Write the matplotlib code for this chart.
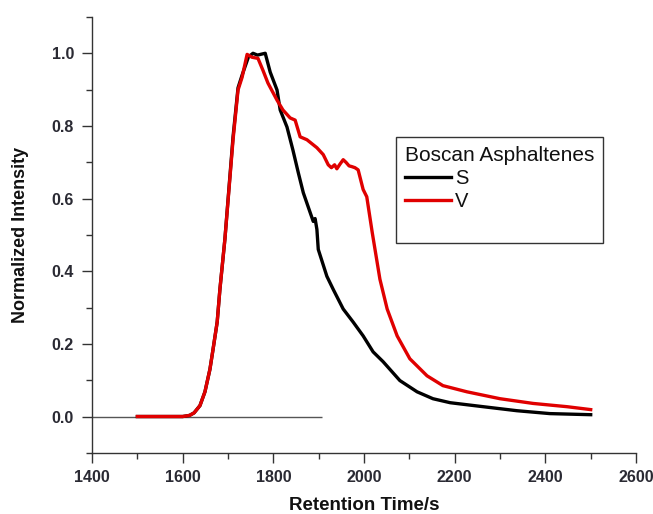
import matplotlib.pyplot as plt
from matplotlib.ticker import MultipleLocator
from matplotlib.lines import Line2D

# Boscan asphaltenes, S and V traces
s_time = [1500, 1600, 1615, 1625, 1638, 1649, 1660, 1667, 1676, 1682, 1693,
          1711, 1722, 1731, 1745, 1755, 1765, 1775, 1782, 1793, 1808, 1815,
          1830, 1843, 1855, 1866, 1881, 1888, 1892, 1896, 1899, 1918, 1932,
          1954, 1976, 1998, 2020, 2042, 2079, 2117, 2152, 2190, 2263, 2337,
          2410, 2500]
s_int = [0, 0, 0.003, 0.01, 0.03, 0.068, 0.13, 0.186, 0.26, 0.35, 0.488,
         0.77, 0.905, 0.94, 0.99, 1.0, 0.995, 0.998, 1.0, 0.948, 0.899, 0.844,
         0.797, 0.734, 0.671, 0.616, 0.562, 0.537, 0.545, 0.515, 0.46, 0.386,
         0.35, 0.296, 0.26, 0.222, 0.178, 0.151, 0.099, 0.068, 0.049, 0.038,
         0.027, 0.016, 0.008, 0.005]

v_time = [1500, 1600, 1615, 1625, 1638, 1649, 1660, 1667, 1676, 1682, 1693,
          1711, 1722, 1731, 1742, 1753, 1766, 1777, 1788, 1808, 1821, 1837,
          1848, 1859, 1874, 1896, 1910, 1921, 1928, 1935, 1940, 1947, 1954,
          1960, 1967, 1973, 1980, 1987, 1998, 2006, 2018, 2035, 2051, 2073,
          2101, 2139, 2174, 2227, 2300, 2373, 2448, 2500]
v_int = [0, 0, 0.003, 0.01, 0.03, 0.068, 0.13, 0.186, 0.26, 0.35, 0.488,
         0.762, 0.899, 0.934, 0.997, 0.989, 0.986, 0.953, 0.918, 0.871, 0.844,
         0.822, 0.816, 0.770, 0.762, 0.740, 0.721, 0.693, 0.685, 0.693, 0.682,
         0.695, 0.707, 0.700, 0.690, 0.688, 0.685, 0.679, 0.625, 0.605, 0.507,
         0.378, 0.296, 0.222, 0.159, 0.112, 0.085, 0.068, 0.049, 0.036, 0.027,
         0.019]

baseline_start = 1400
baseline_end = 1907

plt.rcParams['font.family'] = ['Liberation Sans', 'DejaVu Sans']
text_col = '#2a2a33'

fig = plt.figure(figsize=(6.53, 5.14), dpi=100)
ax = fig.add_axes([0.141, 0.119, 0.833, 0.848])

ax.hlines(0, baseline_start, baseline_end, color='#555555', lw=1.0)
ax.plot(s_time, s_int, color='black', lw=2.4, label='S')
ax.plot(v_time, v_int, color='#e00000', lw=2.4, label='V')

ax.set_xlim(1400, 2600)
ax.set_ylim(-0.1, 1.1)
ax.xaxis.set_major_locator(MultipleLocator(200))
ax.xaxis.set_minor_locator(MultipleLocator(100))
ax.yaxis.set_major_locator(MultipleLocator(0.2))
ax.yaxis.set_minor_locator(MultipleLocator(0.1))
ax.yaxis.set_major_formatter(lambda v, p: f"{v:.1f}")

for side in ['top', 'right']:
    ax.spines[side].set_visible(False)
for side in ['left', 'bottom']:
    ax.spines[side].set_color('#333333')
    ax.spines[side].set_linewidth(1.0)

ax.tick_params(which='major', direction='out', length=7, width=1.0,
               colors='#333333', labelsize=11.5, labelcolor=text_col)
ax.tick_params(axis='x', which='major', pad=5)
ax.tick_params(axis='y', which='major', pad=6)
ax.tick_params(which='minor', direction='out', length=4, width=1.0,
               colors='#333333')
for lbl in ax.get_xticklabels() + ax.get_yticklabels():
    lbl.set_fontweight('bold')

ax.set_xlabel('Retention Time/s', fontsize=13.5, fontweight='bold',
              color='#111111', labelpad=9)
ax.set_ylabel('Normalized Intensity', fontsize=13, fontweight='bold',
              color='#111111', labelpad=16)

handles, labels = ax.get_legend_handles_labels()
handles.append(Line2D([], [], color='none'))
labels.append(' ')
leg = fig.legend(handles, labels, title='Boscan Asphaltenes',
                 loc='upper left', bbox_to_anchor=(0.606, 0.733),
                 borderaxespad=0,
                 fontsize=14.5, title_fontsize=15, frameon=True,
                 fancybox=False, edgecolor='#333333', framealpha=1,
                 handlelength=2.3, handletextpad=0.2, labelspacing=0.2,
                 borderpad=0.45, alignment='left')
leg.get_frame().set_linewidth(1.0)
for t in leg.get_texts():
    t.set_color('#111111')
leg.get_title().set_color('#111111')

fig.savefig('out.png', dpi=100)
